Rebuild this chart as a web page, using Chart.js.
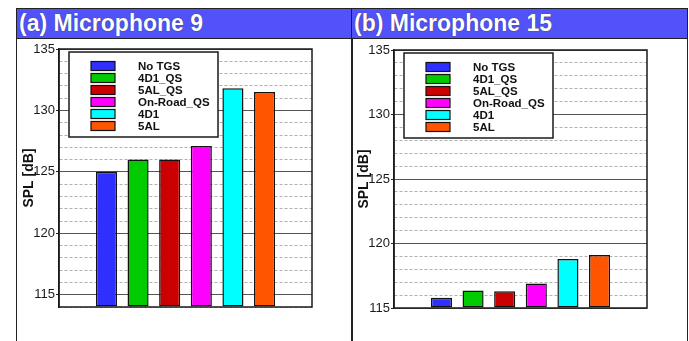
<!DOCTYPE html>
<html>
<head>
<meta charset="utf-8">
<script src="https://cdn.jsdelivr.net/npm/chart.js@4/dist/chart.umd.min.js"></script>
<style>
  html, body { margin: 0; padding: 0; background: #fff; }
  body { width: 689px; height: 341px; position: relative; overflow: hidden; font-family: "Liberation Sans", Arial, sans-serif; }
  .panel { position: absolute; top: 8px; height: 345px; border: 1.5px solid #222; box-sizing: border-box; }
  .bar { position: absolute; left: 0; right: 0; top: 0; height: 29px; background: #5252fb; border-bottom: 1.5px solid #222;
         color: #fff; font-weight: bold; font-size: 23px; line-height: 29px; padding-left: 2px; white-space: nowrap;
         text-shadow: 0 0 1px #223; }
  canvas { position: absolute; left: 0; top: 0; }
</style>
</head>
<body>
<div class="panel" style="left:16px;width:337px;"><div class="bar">(a) Microphone 9</div></div>
<div class="panel" style="left:351px;width:337px;"><div class="bar">(b) Microphone 15</div></div>
<canvas id="micA" width="689" height="341"></canvas>
<canvas id="micB" width="689" height="341"></canvas>
<script>
// Configurations compared at each microphone
const configs = ['No TGS', '4D1_QS', '5AL_QS', 'On-Road_QS', '4D1', '5AL'];
const barColors = ['#2f2fff', '#00cc00', '#cc0000', '#ff00ff', '#00ffff', '#ff5500'];
// Sound pressure level, dB
const splMic9 = [125.0, 126.0, 126.0, 127.1, 131.8, 131.5];
const splMic15 = [115.8, 116.35, 116.3, 116.9, 118.8, 119.1];
// Value-axis ranges
const rangeMic9 = [114, 135];
const rangeMic15 = [115, 135];
const majorStep = 5;

// Frame round the plot area and a boxed legend in its upper-left corner
const frameAndLegend = {
  id: 'frameAndLegend',
  afterDatasetsDraw(chart) {
    const { ctx, chartArea: a } = chart;
    ctx.save();
    ctx.strokeStyle = '#1a1a1a';
    ctx.lineWidth = 1.5;
    ctx.strokeRect(a.left, a.top, a.right - a.left, a.bottom - a.top);

    const bx = a.left + 10, by = a.top + 3, bw = 149, bh = 85;
    ctx.fillStyle = '#fff';
    ctx.fillRect(bx, by, bw, bh);
    ctx.strokeRect(bx, by, bw, bh);
    ctx.font = 'bold 11.5px "Liberation Sans", Arial, sans-serif';
    ctx.textBaseline = 'middle';
    chart.data.datasets.forEach((ds, i) => {
      const cy = a.top + 17 + i * 12;
      ctx.fillStyle = ds.backgroundColor;
      ctx.fillRect(a.left + 32, cy - 4.5, 24, 9);
      ctx.lineWidth = 1.2;
      ctx.strokeStyle = '#111';
      ctx.strokeRect(a.left + 32, cy - 4.5, 24, 9);
      ctx.fillStyle = '#111';
      ctx.fillText(ds.label, a.left + 79, cy + 0.5);
    });
    ctx.restore();
  }
};

const isMajor = c => c.tick && c.tick.value % majorStep === 0;

function makeChart(id, values, range, padding) {
  const datasets = configs.map((name, i) => ({
    label: name,
    data: [{ x: i + 1, y: values[i] }],
    backgroundColor: barColors[i],
    borderColor: '#111',
    borderWidth: 1.5,
    borderSkipped: false,
    base: range[0],
    grouped: false,
    barPercentage: 0.667,
    categoryPercentage: 1
  }));
  return new Chart(document.getElementById(id), {
    type: 'bar',
    data: { datasets },
    options: {
      responsive: false,
      animation: false,
      events: [],
      layout: { padding },
      plugins: { legend: { display: false }, tooltip: { enabled: false } },
      scales: {
        x: { type: 'linear', min: 0, max: 7, display: false, ticks: { stepSize: 1 } },
        y: {
          min: range[0], max: range[1],
          afterFit: s => { s.width = 40; },
          ticks: {
            stepSize: 1, autoSkip: false, padding: 1,
            color: '#1a1a1a',
            font: { family: '"Liberation Sans", Arial, sans-serif', size: 13 },
            callback: v => (v % majorStep === 0 ? v : '')
          },
          grid: {
            drawTicks: true,
            tickLength: 3,
            tickColor: c => (isMajor(c) ? '#222' : 'rgba(0,0,0,0)'),
            color: c => (isMajor(c) ? '#555' : '#b0b0b0'),
            lineWidth: 1
          },
          border: {
            color: '#1a1a1a', width: 1.5,
            dash: c => (c.tick && !isMajor(c) ? [3, 2] : [])
          },
          title: {
            display: true, text: 'SPL [dB]', color: '#111',
            padding: { top: 2, bottom: 0 },
            font: { family: '"Liberation Sans", Arial, sans-serif', size: 14, weight: 'bold' }
          }
        }
      }
    },
    plugins: [frameAndLegend]
  });
}

makeChart('micA', splMic9, rangeMic9, { left: 19, right: 377, top: 49, bottom: 34 });
makeChart('micB', splMic15, rangeMic15, { left: 354, right: 42, top: 50, bottom: 33 });
</script>
</body>
</html>
